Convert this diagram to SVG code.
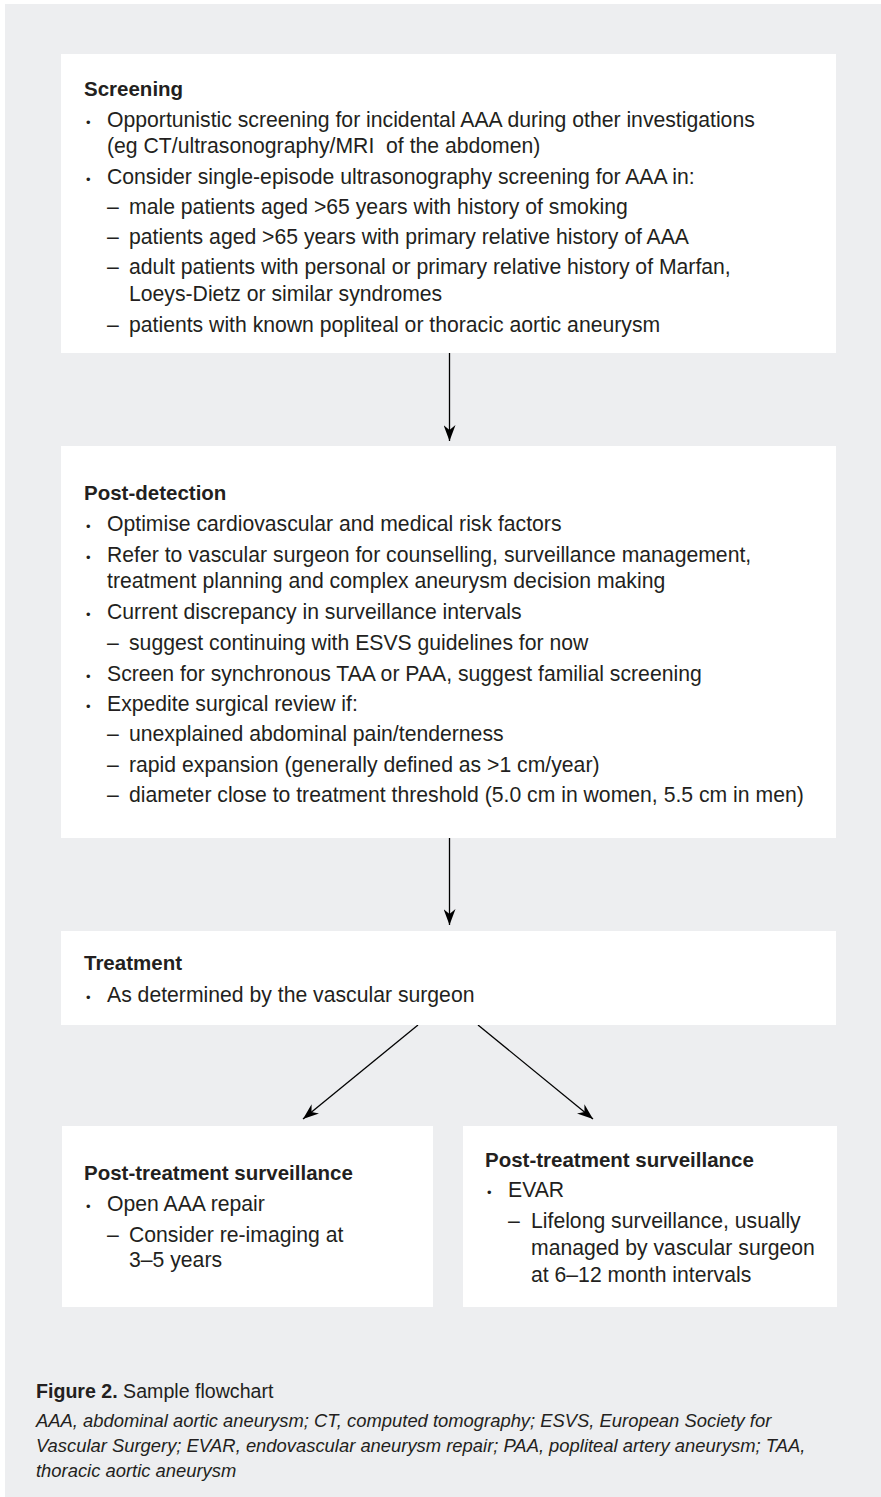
<svg xmlns="http://www.w3.org/2000/svg" width="881" height="1497" viewBox="0 0 881 1497">
<style>
.bg{fill:#edeef0}
.box{fill:#ffffff}
text{font-family:"Liberation Sans",Arial,sans-serif;fill:#231f20}
.h{font-size:20.5px;font-weight:bold}
.t{font-size:21.2px}
.b{font-size:13px}
.cap{font-size:19.6px}
.it{font-size:18.4px;font-style:italic}
.pre{white-space:pre}
.ln{stroke:#000;stroke-width:1.3;fill:none}
</style>
<defs>
<marker id="ah" markerUnits="userSpaceOnUse" viewBox="0 0 16 12" refX="16" refY="6" markerWidth="16" markerHeight="12" orient="auto">
<path d="M0,0 L16,6 L0,12 L5,6 Z" fill="#000"/>
</marker>
</defs>
<rect class="bg" x="5" y="4" width="876" height="1493"/>
<g id="connectors">
<line class="ln" x1="449.5" y1="353" x2="449.5" y2="441" marker-end="url(#ah)"/>
<line class="ln" x1="449.5" y1="838" x2="449.5" y2="925" marker-end="url(#ah)"/>
<line class="ln" x1="418" y1="1025" x2="303" y2="1119" marker-end="url(#ah)"/>
<line class="ln" x1="478" y1="1025" x2="593" y2="1119" marker-end="url(#ah)"/>
</g>
<g id="screening">
<rect class="box" x="61" y="54" width="775" height="299"/>
<text class="h" x="84" y="96">Screening</text>
<text class="b" x="86" y="127">•</text>
<text class="t" x="107" y="127">Opportunistic screening for incidental AAA during other investigations</text>
<text class="t pre" x="107" y="153" xml:space="preserve">(eg CT/ultrasonography/MRI  of the abdomen)</text>
<text class="b" x="86" y="184">•</text>
<text class="t" x="107" y="184">Consider single-episode ultrasonography screening for AAA in:</text>
<text class="t" x="107" y="214">–</text>
<text class="t" x="129" y="214">male patients aged &gt;65 years with history of smoking</text>
<text class="t" x="107" y="244">–</text>
<text class="t" x="129" y="244">patients aged &gt;65 years with primary relative history of AAA</text>
<text class="t" x="107" y="274">–</text>
<text class="t" x="129" y="274">adult patients with personal or primary relative history of Marfan,</text>
<text class="t" x="129" y="301">Loeys-Dietz or similar syndromes</text>
<text class="t" x="107" y="332">–</text>
<text class="t" x="129" y="332">patients with known popliteal or thoracic aortic aneurysm</text>
</g>
<g id="post-detection">
<rect class="box" x="61" y="446" width="775" height="392"/>
<text class="h" x="84" y="500">Post-detection</text>
<text class="b" x="86" y="531">•</text>
<text class="t" x="107" y="531">Optimise cardiovascular and medical risk factors</text>
<text class="b" x="86" y="562">•</text>
<text class="t" x="107" y="562">Refer to vascular surgeon for counselling, surveillance management,</text>
<text class="t" x="107" y="588">treatment planning and complex aneurysm decision making</text>
<text class="b" x="86" y="619">•</text>
<text class="t" x="107" y="619">Current discrepancy in surveillance intervals</text>
<text class="t" x="107" y="650">–</text>
<text class="t" x="129" y="650">suggest continuing with ESVS guidelines for now</text>
<text class="b" x="86" y="681">•</text>
<text class="t" x="107" y="681">Screen for synchronous TAA or PAA, suggest familial screening</text>
<text class="b" x="86" y="711">•</text>
<text class="t" x="107" y="711">Expedite surgical review if:</text>
<text class="t" x="107" y="741">–</text>
<text class="t" x="129" y="741">unexplained abdominal pain/tenderness</text>
<text class="t" x="107" y="772">–</text>
<text class="t" x="129" y="772">rapid expansion (generally defined as &gt;1 cm/year)</text>
<text class="t" x="107" y="802">–</text>
<text class="t" x="129" y="802">diameter close to treatment threshold (5.0 cm in women, 5.5 cm in men)</text>
</g>
<g id="treatment">
<rect class="box" x="61" y="931" width="775" height="94"/>
<text class="h" x="84" y="970">Treatment</text>
<text class="b" x="86" y="1002">•</text>
<text class="t" x="107" y="1002">As determined by the vascular surgeon</text>
</g>
<g id="surveillance-open">
<rect class="box" x="62" y="1126" width="371" height="181"/>
<text class="h" x="84" y="1180">Post-treatment surveillance</text>
<text class="b" x="86" y="1211">•</text>
<text class="t" x="107" y="1211">Open AAA repair</text>
<text class="t" x="107" y="1242">–</text>
<text class="t" x="129" y="1242">Consider re-imaging at</text>
<text class="t" x="129" y="1267">3–5 years</text>
</g>
<g id="surveillance-evar">
<rect class="box" x="463" y="1126" width="374" height="181"/>
<text class="h" x="485" y="1167">Post-treatment surveillance</text>
<text class="b" x="487" y="1197">•</text>
<text class="t" x="508" y="1197">EVAR</text>
<text class="t" x="508" y="1228">–</text>
<text class="t" x="531" y="1228">Lifelong surveillance, usually</text>
<text class="t" x="531" y="1255">managed by vascular surgeon</text>
<text class="t" x="531" y="1282">at 6–12 month intervals</text>
</g>
<g id="caption">
<text class="cap" x="36" y="1398"><tspan font-weight="bold">Figure 2.</tspan> Sample flowchart</text>
<text class="it" x="36" y="1427">AAA, abdominal aortic aneurysm; CT, computed tomography; ESVS, European Society for</text>
<text class="it" x="36" y="1452">Vascular Surgery; EVAR, endovascular aneurysm repair; PAA, popliteal artery aneurysm; TAA,</text>
<text class="it" x="36" y="1477">thoracic aortic aneurysm</text>
</g>
</svg>
